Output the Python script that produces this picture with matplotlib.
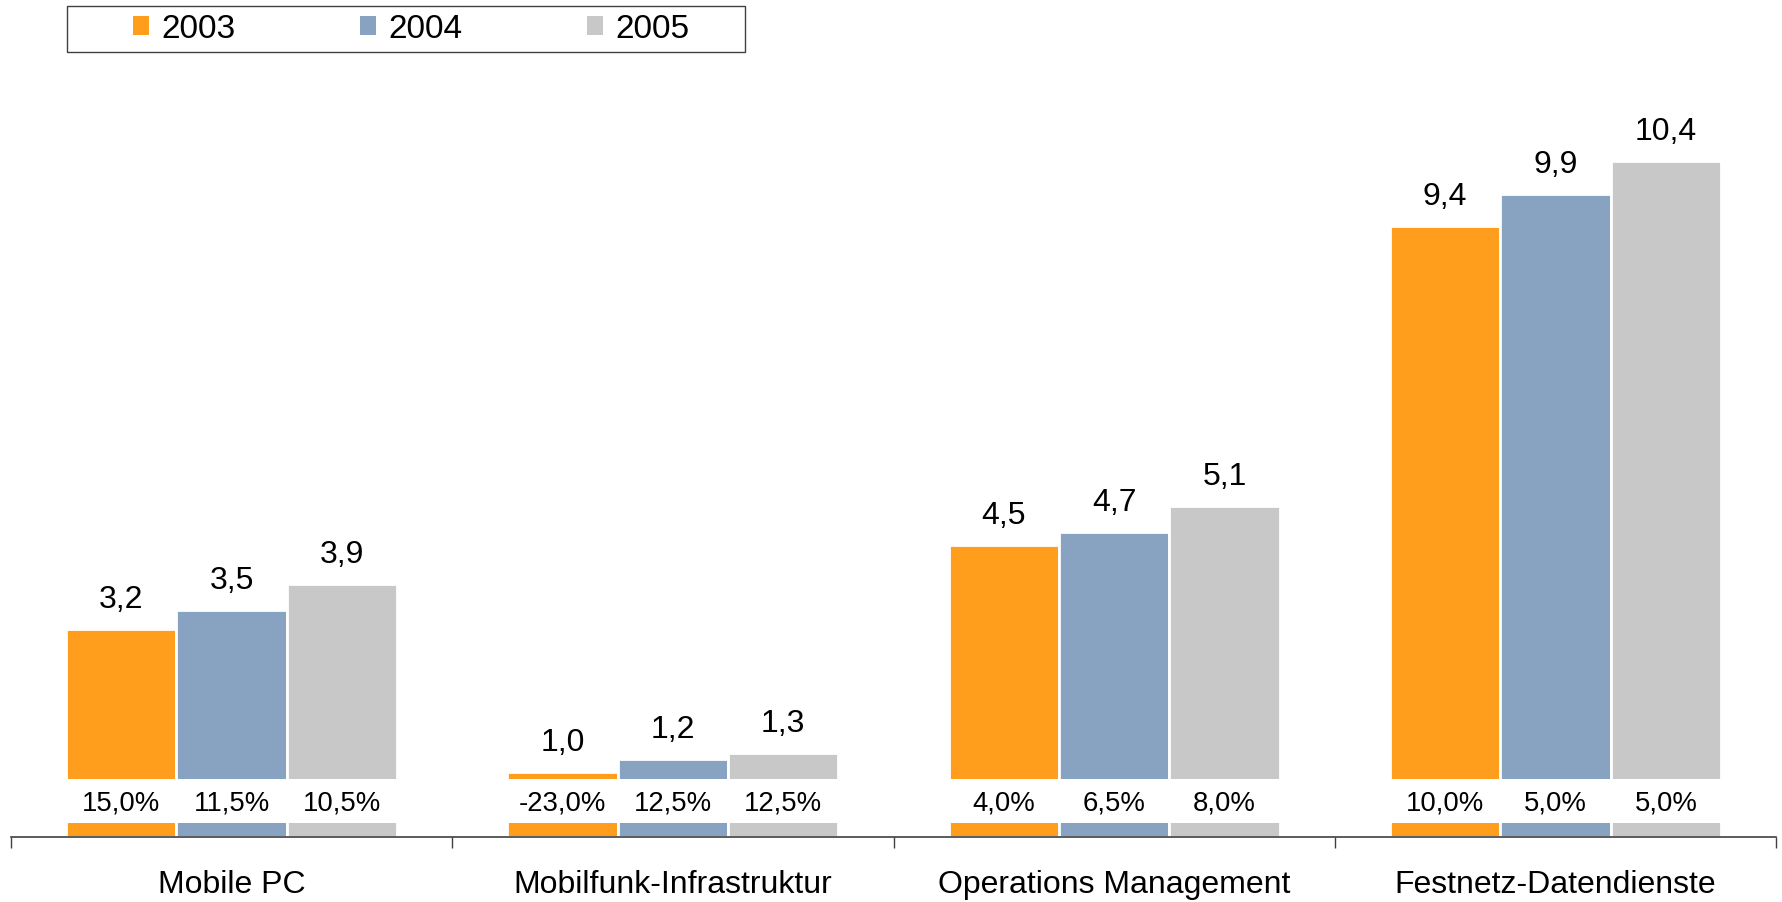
import numpy as np
import matplotlib.pyplot as plt
from matplotlib.patches import Patch, Rectangle

plt.rcParams['font.family'] = ['Liberation Sans', 'DejaVu Sans']

categories = ['Mobile PC', 'Mobilfunk-Infrastruktur', 'Operations Management', 'Festnetz-Datendienste']
years = ['2003', '2004', '2005']
values_2003 = [3.2, 1.0, 4.5, 9.4]
values_2004 = [3.5, 1.2, 4.7, 9.9]
values_2005 = [3.9, 1.3, 5.1, 10.4]
growth_2003 = ['15,0%', '-23,0%', '4,0%', '10,0%']
growth_2004 = ['11,5%', '12,5%', '6,5%', '5,0%']
growth_2005 = ['10,5%', '12,5%', '8,0%', '5,0%']

series = [values_2003, values_2004, values_2005]
growth = [growth_2003, growth_2004, growth_2005]
colours = ['#FF9D1C', '#87A3C1', '#C8C8C8']

W, H = 1783, 902
fig = plt.figure(figsize=(W / 100, H / 100), dpi=100)
ax = fig.add_axes([11 / W, 65 / H, 4 * 441.3 / W, 837 / H])

x = np.arange(len(categories))
bw = 0.25
for i in range(3):
    bars = ax.bar(x + (i - 1) * bw, series[i], bw, color=colours[i],
                  edgecolor='white', linewidth=2, zorder=2)
    ax.bar_label(bars, labels=[('%.1f' % v).replace('.', ',') for v in series[i]],
                 padding=10, fontsize=23)

# white band with growth rates
ax.bar(x, 0.675, 0.75, bottom=0.215, color='white', edgecolor='none', zorder=3)
for i in range(3):
    for j in range(len(categories)):
        ax.text(x[j] + (i - 1) * bw, 0.51, growth[i][j], ha='center', va='center',
                fontsize=19.8, zorder=4)

ax.set_xlim(-0.5, len(categories) - 0.5)
ax.set_ylim(0, 837 / 65.0)
for s in ['top', 'left', 'right']:
    ax.spines[s].set_visible(False)
ax.spines['bottom'].set_color('#404040')
ax.spines['bottom'].set_linewidth(1.2)
ax.set_yticks([])
ax.set_xticks(np.arange(len(categories) + 1) - 0.5)
ax.set_xticklabels([])
ax.tick_params(axis='x', which='major', length=8, width=1, color='#404040')
ax.set_xticks(x, minor=True)
ax.set_xticklabels(categories, minor=True, fontsize=23)
ax.tick_params(axis='x', which='minor', length=0, pad=24)

# legend
fig.patches.append(Rectangle((67 / W, 1 - 52 / H), 678 / W, 46 / H, transform=fig.transFigure,
                             facecolor='white', edgecolor='#404040', linewidth=1))
handles = [Patch(facecolor=c, edgecolor='none') for c in colours]
fig.legend(handles, years, loc='center left', bbox_to_anchor=(133 / W, 1 - 29 / H),
           ncol=3, frameon=False, fontsize=24, borderpad=0, borderaxespad=0,
           handlelength=0.48, handleheight=0.48, handletextpad=0.36, columnspacing=3.75)

fig.savefig('out.png', dpi=100)
